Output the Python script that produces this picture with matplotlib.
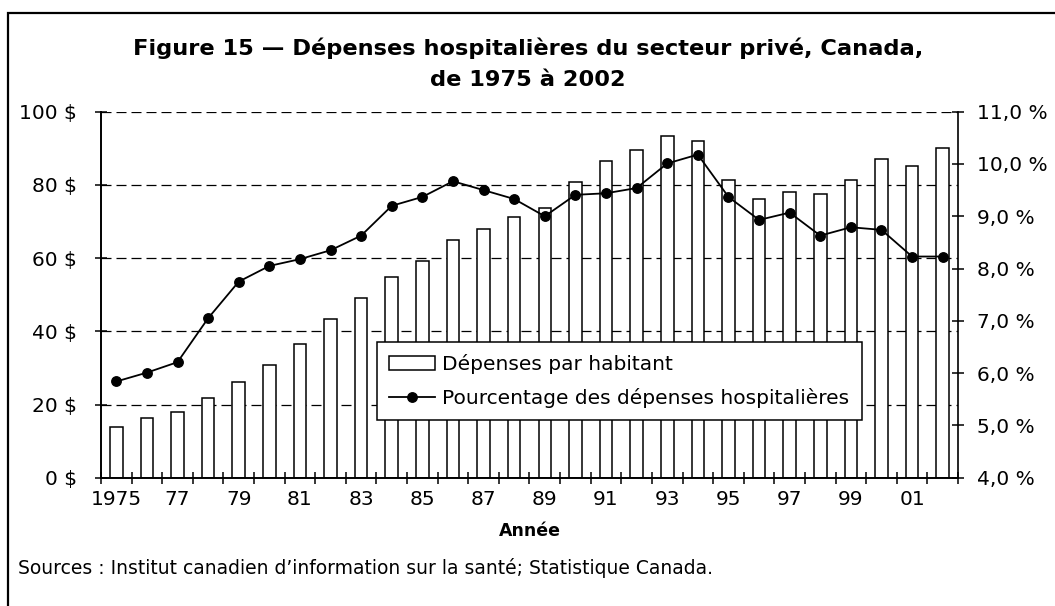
import numpy as np
import matplotlib.pyplot as plt
from matplotlib.patches import Rectangle
from matplotlib.ticker import FixedLocator, FuncFormatter

# données
annees = list(range(1975, 2003))
depenses = [13.9, 16.4, 17.9, 21.7, 26.1, 30.8, 36.6, 43.4, 49.1, 54.8,
            59.2, 64.9, 67.9, 71.2, 73.6, 80.9, 86.6, 89.5, 93.4, 91.9,
            81.3, 76.1, 78.0, 77.4, 81.3, 87.1, 85.2, 90.0]
pourcentage = [5.84, 6.01, 6.21, 7.05, 7.75, 8.05, 8.18, 8.35, 8.63, 9.20,
               9.37, 9.67, 9.50, 9.33, 9.00, 9.41, 9.44, 9.54, 10.01, 10.18,
               9.37, 8.93, 9.07, 8.63, 8.79, 8.74, 8.23, 8.23]
etiquettes_x = ["1975"] + ["%02d" % (a % 100) for a in annees[2::2]]

W, H = 1055, 606
plt.rcParams['font.family'] = ['DejaVu Sans']
fig = plt.figure(figsize=(W / 100, H / 100), dpi=100)

# cadre extérieur
fig.patches.append(Rectangle((8 / W, -0.05), 1.2, 1 - 13 / H + 0.05,
                             transform=fig.transFigure, fill=False,
                             edgecolor='black', lw=1.6))

ax = fig.add_axes([101 / W, 1 - 477.7 / H, 857 / W, 366 / H])
x = np.arange(len(annees))

ax.set_ylim(0, 100)
ax.set_xlim(-0.5, len(annees) - 0.5)
for v in [20, 40, 60, 80, 100]:
    ax.axhline(v, color='black', lw=0.9, ls=(0, (8, 4)), zorder=0)

barres = ax.bar(x, depenses, width=0.41, color='white', edgecolor='black',
                lw=1.1, zorder=2, label='Dépenses par habitant')

ax2 = ax.twinx()
ax2.set_ylim(4.0, 11.0)
ligne, = ax2.plot(x, pourcentage, '-o', color='black', lw=1.3, ms=6.8,
                  label='Pourcentage des dépenses hospitalières')

for a in (ax, ax2):
    a.spines['top'].set_visible(False)
    for s in ['left', 'right', 'bottom']:
        a.spines[s].set_linewidth(1.2)
ax.spines['right'].set_visible(False)

ax.set_yticks([0, 20, 40, 60, 80, 100])
ax.yaxis.set_major_formatter(FuncFormatter(lambda v, p: "%d $" % v))
ax.tick_params(axis='y', direction='inout', length=9, width=1.1,
               labelsize=14.5, pad=13)

ax2.set_yticks(np.arange(4, 11.5, 1.0))
ax2.yaxis.set_major_formatter(
    FuncFormatter(lambda v, p: ("%.1f %%" % v).replace('.', ',')))
ax2.tick_params(axis='y', direction='inout', length=9, width=1.1,
                labelsize=14.5, pad=9)

ax.set_xticks(x[::2])
ax.set_xticklabels(etiquettes_x)
ax.xaxis.set_minor_locator(FixedLocator(np.arange(-0.5, len(annees), 1.0)))
ax.tick_params(axis='x', which='major', length=0, labelsize=14.5, pad=9)
ax.tick_params(axis='x', which='minor', direction='inout', length=9,
               width=1.1)
ax.set_xlabel('Année', fontsize=12.5, fontweight='bold', labelpad=9)

ax2.set_zorder(ax.get_zorder() + 1)
ax2.patch.set_visible(False)

leg = ax2.legend([barres, ligne],
                 ['Dépenses par habitant',
                  'Pourcentage des dépenses hospitalières'],
                 loc='upper left', bbox_to_anchor=(0.322, 0.371),
                 borderaxespad=0, fancybox=False, framealpha=1,
                 edgecolor='black', fontsize=14.5, handlelength=2.3,
                 handletextpad=0.35, borderpad=0.6, labelspacing=0.7)
leg.get_frame().set_linewidth(1.1)

fig.text(528 / W, 1 - 48 / H,
         "Figure 15 \u2014 Dépenses hospitalières du secteur privé, Canada,",
         ha='center', va='center', fontsize=16.2, fontweight='bold')
fig.text(528 / W, 1 - 80 / H, "de 1975 à 2002",
         ha='center', va='center', fontsize=16.2, fontweight='bold')
fig.text(18 / W, 1 - 568 / H,
         "Sources : Institut canadien d\u2019information sur la santé; "
         "Statistique Canada.",
         ha='left', va='center', fontsize=13.5)

fig.savefig('out.png', dpi=100)
